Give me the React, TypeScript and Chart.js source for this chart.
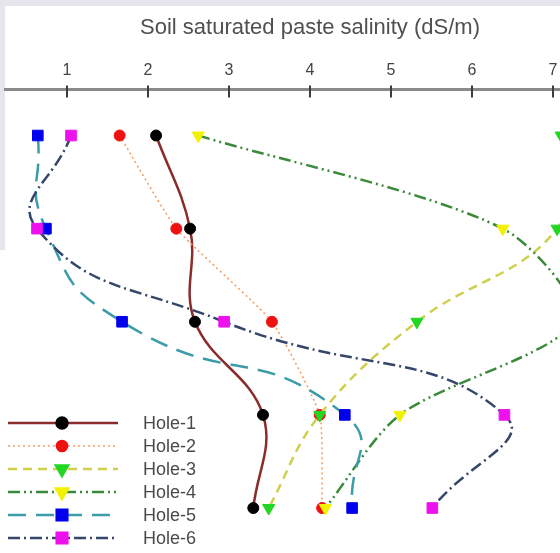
import { useEffect, useRef } from "react";
import { Chart, registerables } from "chart.js";
import { drawPoint } from "chart.js/helpers";

Chart.register(...registerables);

// Sampling depths (1 = shallowest), plotted top to bottom
const depthLevels = [1, 2, 3, 4, 5];

// Soil saturated paste salinity (dS/m) per hole, shallow to deep
const hole1 = [2.1, 2.52, 2.58, 3.42, 3.3];
const hole2 = [1.65, 2.35, 3.53, 4.12, 4.15];
const hole3 = [7.1, 7.05, 5.32, 4.12, 3.49];
const hole4 = [2.62, 6.38, 7.25, 5.11, 4.19];
const hole5 = [0.64, 0.74, 1.68, 4.43, 4.52];
const hole6 = [1.05, 0.63, 2.94, 6.4, 5.51];

const holeNames = ["Hole-1", "Hole-2", "Hole-3", "Hole-4", "Hole-5", "Hole-6"];
const holeValues = [hole1, hole2, hole3, hole4, hole5, hole6];

const xTickValues = [1, 2, 3, 4, 5, 6, 7];
const xTitle = "Soil saturated paste salinity (dS/m)";

const FONT = "'Liberation Sans', Arial, sans-serif";

// Line and marker appearance for each hole
const holeStyles = [
  { line: "#8a2c2c", width: 2.5, dash: [] as number[], tension: 0.4, marker: "#000000", shape: "circle", rot: 0, r: 5.5 },
  { line: "#f4a062", width: 1.6, dash: [2, 3], tension: 0.15, marker: "#ee1111", shape: "circle", rot: 0, r: 5.5 },
  { line: "#cfcf4e", width: 2.5, dash: [9, 6], tension: 0.4, marker: "#22d622", shape: "triangle", rot: 180, r: 7 },
  { line: "#3a8a3a", width: 2.5, dash: [12, 4, 2, 4, 2, 4], tension: 0.28, marker: "#f2f200", shape: "triangle", rot: 180, r: 7 },
  { line: "#3c9ca8", width: 2.5, dash: [18, 10], tension: 0.55, marker: "#0000ee", shape: "rect", rot: 0, r: 7.5 },
  { line: "#34466a", width: 2.5, dash: [12, 4, 2, 4], tension: 0.5, marker: "#ee11ee", shape: "rect", rot: 0, r: 7.5 },
];

// Axis tick marks that cross the top axis line
const crossTicks = {
  id: "crossTicks",
  afterDraw(chart: any) {
    const sc = chart.scales.x;
    const ctx = chart.ctx;
    ctx.save();
    ctx.strokeStyle = "#3c3c3c";
    ctx.lineWidth = 2;
    for (const t of sc.ticks) {
      const px = Math.round(sc.getPixelForValue(t.value));
      ctx.beginPath();
      ctx.moveTo(px, sc.bottom - 4);
      ctx.lineTo(px, sc.bottom + 8);
      ctx.stroke();
    }
    ctx.restore();
  },
};

// Legend drawn as line samples with the marker in the middle
const sampleLegend = {
  id: "sampleLegend",
  afterDraw(chart: any) {
    const ctx = chart.ctx;
    chart.data.datasets.forEach((ds: any, i: number) => {
      const y = 423 + i * 23;
      ctx.save();
      ctx.strokeStyle = ds.borderColor;
      ctx.lineWidth = ds.borderWidth;
      ctx.setLineDash(ds.borderDash || []);
      ctx.beginPath();
      ctx.moveTo(8, y);
      ctx.lineTo(118, y);
      ctx.stroke();
      ctx.setLineDash([]);
      ctx.fillStyle = ds.pointBackgroundColor;
      ctx.strokeStyle = ds.pointBorderColor;
      drawPoint(
        ctx,
        { pointStyle: ds.pointStyle, rotation: ds.pointRotation, radius: ds.pointRadius, borderWidth: 1 },
        62,
        y
      );
      ctx.fillStyle = "#4a4a4a";
      ctx.font = `18px ${FONT}`;
      ctx.textBaseline = "middle";
      ctx.textAlign = "left";
      ctx.fillText(ds.label, 143, y + 1);
      ctx.restore();
    });
  },
};

export default function App() {
  const canvasRef = useRef<HTMLCanvasElement | null>(null);

  useEffect(() => {
    const canvas = canvasRef.current;
    if (!canvas) return;

    const datasets = holeNames.map((name, i) => {
      const st = holeStyles[i];
      return {
        label: name,
        data: holeValues[i].map((v, j) => ({ x: v, y: depthLevels[j] })),
        borderColor: st.line,
        borderWidth: st.width,
        borderDash: st.dash,
        tension: st.tension,
        pointStyle: st.shape,
        pointRotation: st.rot,
        pointRadius: st.r,
        pointBackgroundColor: st.marker,
        pointBorderColor: st.marker,
        pointBorderWidth: 1,
        fill: false,
        order: holeNames.length - i,
      };
    });

    const chart = new Chart(canvas, {
      type: "line",
      data: { datasets },
      options: {
        responsive: false,
        animation: false,
        devicePixelRatio: 1,
        layout: { autoPadding: false, padding: { top: 8, left: 5, right: 5, bottom: 0 } },
        plugins: { legend: { display: false }, tooltip: { enabled: false } },
        scales: {
          x: {
            type: "linear",
            position: "top",
            min: 0.235,
            max: 7.765,
            afterBuildTicks: (scale: any) => {
              scale.ticks = xTickValues.map((v) => ({ value: v }));
            },
            ticks: {
              includeBounds: false,
              padding: 9,
              color: "#444444",
              font: { size: 16, family: FONT },
              maxRotation: 0,
              autoSkip: false,
            },
            grid: { display: false, drawTicks: false, tickLength: 0 },
            border: { display: true, color: "#8a8a8a", width: 3 },
            title: {
              display: true,
              text: xTitle,
              color: "#505050",
              font: { size: 22, family: FONT },
              padding: { top: 7, bottom: 11 },
            },
          },
          y: {
            type: "linear",
            reverse: true,
            min: 0.507,
            max: 5.483,
            display: false,
          },
        },
      },
      plugins: [crossTicks, sampleLegend],
    } as any);

    return () => chart.destroy();
  }, []);

  return (
    <div
      style={{
        position: "fixed",
        left: 0,
        top: 0,
        width: 560,
        height: 553,
        overflow: "hidden",
        background: "#e5e5eb",
      }}
    >
      <div style={{ position: "absolute", left: 5, top: 6, right: 0, bottom: 0, background: "#ffffff" }} />
      <div style={{ position: "absolute", left: 0, top: 250, width: 6, bottom: 0, background: "#ffffff" }} />
      <canvas
        ref={canvasRef}
        width={620}
        height={553}
        style={{ position: "absolute", left: 0, top: 0, width: 620, height: 553 }}
      />
    </div>
  );
}
